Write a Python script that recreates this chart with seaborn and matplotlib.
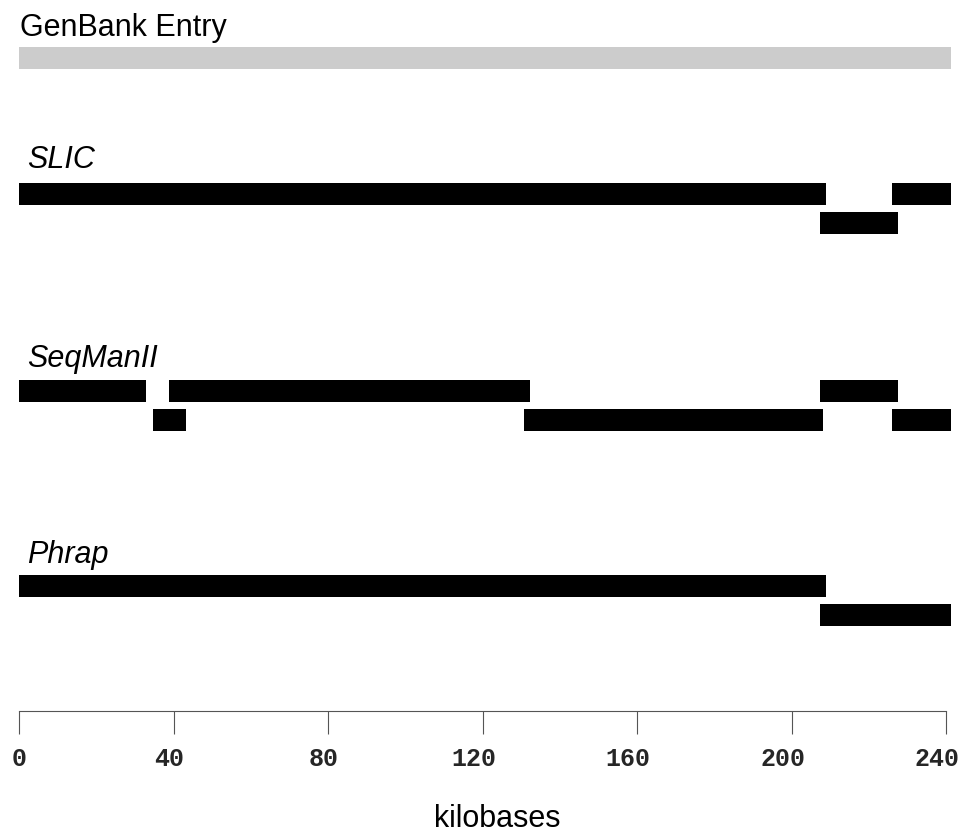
import matplotlib
matplotlib.use("Agg")
import matplotlib.pyplot as plt
import matplotlib.transforms as mtransforms
import numpy as np
import pandas as pd
import seaborn as sns

# ---- assembly tracks (kilobase coordinates) ----
genbank_start = [0.0]
genbank_end = [241.3]
genbank_lane = [0]

slic_start = [0.0, 207.4, 226.1]
slic_end = [208.9, 227.5, 241.2]
slic_lane = [0, 1, 0]

seqman_start = [0.0, 38.8, 207.4, 34.7, 130.7, 226.0]
seqman_end = [32.9, 132.3, 227.6, 43.2, 208.2, 241.3]
seqman_lane = [0, 0, 0, 1, 1, 1]

phrap_start = [0.0, 207.4]
phrap_end = [208.9, 241.2]
phrap_lane = [0, 1]

track_names = ["GenBank Entry", "SLIC", "SeqManII", "Phrap"]
track_italic = [False, True, True, True]
tick_values = [0, 40, 80, 120, 160, 200, 240]
tick_labels = ["0", "40", "80", "120", "160", "200", "240"]
axis_label = "kilobases"

frames = []
for name, s, e, l in zip(
    track_names,
    [genbank_start, slic_start, seqman_start, phrap_start],
    [genbank_end, slic_end, seqman_end, phrap_end],
    [genbank_lane, slic_lane, seqman_lane, phrap_lane],
):
    frames.append(pd.DataFrame({"track": name, "start": s, "end": e, "lane": l}))
contigs = pd.concat(frames, ignore_index=True)

# ---- layout (pixels) ----
W, H, DPI = 965, 835, 100
X0, X1 = 19, 946                     # pixel positions of 0 and 240 kb
KB_PER_PX = 240 / (X1 - X0)
track_center = {"GenBank Entry": 58, "SLIC": 194, "SeqManII": 391, "Phrap": 586}
label_baseline = {"GenBank Entry": 36, "SLIC": 168, "SeqManII": 367, "Phrap": 563}
label_x_px = {"GenBank Entry": 20, "SLIC": 27, "SeqManII": 27, "Phrap": 27}
LANE_STEP = 28.5
BAR_H = 22
AXIS_TOP, AXIS_BOTTOM = 711, 734

sns.set_theme(style="white")
plt.rcParams["font.family"] = ["Liberation Sans", "DejaVu Sans"]

fig = plt.figure(figsize=(W / DPI, H / DPI), dpi=DPI)
ax = fig.add_axes([0, 0, 1, 1])
ax.set_xlim(-X0 * KB_PER_PX, 240 + (W - X1) * KB_PER_PX)
ax.set_ylim(H, 0)
ax.axis("off")

for _, row in contigs.iterrows():
    y = track_center[row.track] + row.lane * LANE_STEP
    color = "#cccccc" if row.track == "GenBank Entry" else "black"
    ax.barh(y, row.end - row.start, left=row.start, height=BAR_H,
            color=color, edgecolor="none", linewidth=0)

for name, italic in zip(track_names, track_italic):
    ax.text((label_x_px[name] - X0) * KB_PER_PX, label_baseline[name], name,
            fontsize=22, style="italic" if italic else "normal",
            ha="left", va="baseline", color="black")

ax.text((497 - X0) * KB_PER_PX, 827, axis_label, fontsize=22,
        ha="center", va="baseline", color="black")

# ---- scale bar ----
sax = fig.add_axes([X0 / W, (H - AXIS_BOTTOM) / H, (X1 - X0) / W,
                    (AXIS_BOTTOM - AXIS_TOP) / H])
sax.set_xlim(0, 240)
sax.set_ylim(0, 1)
sax.patch.set_alpha(0)
for side in ["left", "right", "bottom"]:
    sax.spines[side].set_visible(False)
sax.spines["top"].set_visible(True)
sax.spines["top"].set_color("#555555")
sax.spines["top"].set_linewidth(0.8)
sax.set_yticks([])
sax.set_xticks(tick_values)
sax.set_xticklabels(tick_labels, fontfamily="Liberation Mono",
                    fontweight="bold", fontsize=18)
sax.tick_params(axis="x", direction="in", length=(AXIS_BOTTOM - AXIS_TOP) * 0.72,
                width=0.8, color="#555555", pad=9, bottom=True, top=False)
for lbl in sax.get_xticklabels():
    dx = -4.5 * (len(lbl.get_text()) - 1)
    shift = mtransforms.ScaledTranslation(dx / DPI, 0, fig.dpi_scale_trans)
    lbl.set_transform(lbl.get_transform() + shift)

fig.savefig("out.png", dpi=DPI)
